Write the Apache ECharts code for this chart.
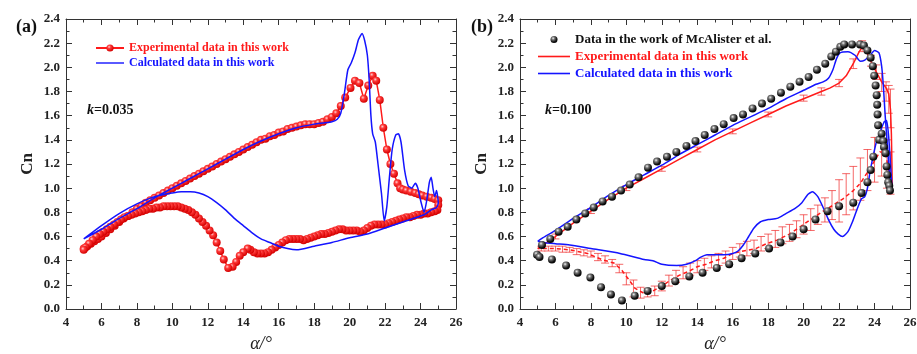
<!DOCTYPE html>
<html>
<head>
<meta charset="utf-8">
<script src="https://cdn.jsdelivr.net/npm/echarts@6/dist/echarts.min.js"></script>
<style>html,body{margin:0;padding:0;background:#fff}#c{width:917px;height:354px}</style>
</head>
<body>
<div id="c"></div>
<script>
// ---------- DATA ----------
const xTicks = [4, 26, 2];      // min, max, step (alpha, deg)
const yTicks = [0, 2.4, 0.2];   // min, max, step (Cn)

// Panel (a): k = 0.035
const aExpUp = [[5.0,0.50],[5.2,0.52],[5.4,0.54],[5.6,0.56],[5.8,0.58],[6.0,0.60],[6.25,0.63],[6.5,0.66],[6.75,0.69],[7.0,0.72],[7.25,0.75],[7.5,0.77],[7.75,0.80],[8.0,0.83],[8.25,0.85],[8.5,0.88],[8.75,0.90],[9.0,0.92],[9.25,0.94],[9.5,0.96],[9.75,0.98],[10.0,1.00],[10.25,1.02],[10.5,1.04],[10.75,1.06],[11.0,1.08],[11.25,1.10],[11.5,1.12],[11.75,1.14],[12.0,1.16],[12.25,1.18],[12.5,1.20],[12.75,1.22],[13.0,1.24],[13.25,1.26],[13.5,1.28],[13.75,1.30],[14.0,1.32],[14.25,1.34],[14.5,1.36],[14.75,1.38],[15.0,1.40],[15.25,1.41],[15.5,1.43],[15.75,1.44],[16.0,1.46],[16.25,1.47],[16.5,1.49],[16.75,1.50],[17.0,1.51],[17.25,1.52],[17.5,1.53],[17.75,1.53],[18.0,1.53],[18.25,1.54],[18.5,1.55],[18.75,1.57],[19.0,1.59],[19.25,1.62],[19.5,1.68],[19.75,1.75],[20.05,1.83],[20.3,1.89],[20.55,1.87],[20.8,1.74],[21.05,1.85],[21.3,1.93],[21.5,1.89],[21.7,1.73],[21.9,1.50],[22.1,1.32],[22.3,1.20],[22.5,1.12],[22.7,1.04],[22.85,1.00],[23.0,0.99],[23.2,0.98],[23.45,0.97],[23.7,0.96],[23.9,0.95],[24.1,0.94],[24.35,0.93],[24.6,0.92],[24.8,0.91],[25.0,0.90]];
const aExpDown = [[25.0,0.86],[24.95,0.82],[24.8,0.81],[24.6,0.80],[24.4,0.79],[24.2,0.79],[24.0,0.78],[23.8,0.78],[23.6,0.77],[23.4,0.76],[23.2,0.76],[23.0,0.75],[22.8,0.74],[22.6,0.73],[22.4,0.72],[22.2,0.71],[22.0,0.70],[21.8,0.70],[21.6,0.70],[21.4,0.70],[21.2,0.69],[21.0,0.67],[20.8,0.65],[20.6,0.64],[20.4,0.65],[20.2,0.65],[20.0,0.65],[19.8,0.65],[19.6,0.66],[19.4,0.66],[19.2,0.65],[19.0,0.64],[18.8,0.63],[18.6,0.62],[18.4,0.62],[18.2,0.61],[18.0,0.60],[17.8,0.59],[17.6,0.58],[17.4,0.57],[17.2,0.58],[17.0,0.58],[16.8,0.58],[16.6,0.58],[16.4,0.57],[16.2,0.55],[16.0,0.53],[15.8,0.51],[15.6,0.49],[15.4,0.47],[15.2,0.46],[15.0,0.46],[14.8,0.46],[14.6,0.47],[14.4,0.49],[14.25,0.50],[14.0,0.47],[13.8,0.44],[13.6,0.39],[13.4,0.35],[13.15,0.34],[12.9,0.41],[12.7,0.48],[12.5,0.55],[12.3,0.61],[12.1,0.65],[11.9,0.69],[11.7,0.72],[11.5,0.75],[11.3,0.78],[11.1,0.80],[10.9,0.82],[10.7,0.83],[10.5,0.84],[10.3,0.85],[10.1,0.85],[9.9,0.85],[9.7,0.85],[9.5,0.85],[9.3,0.84],[9.1,0.84],[8.9,0.83],[8.7,0.83],[8.5,0.82],[8.3,0.81],[8.1,0.80],[7.9,0.79],[7.7,0.78],[7.5,0.77],[7.3,0.76],[7.1,0.74],[6.9,0.72],[6.7,0.70],[6.5,0.68],[6.3,0.66],[6.1,0.64],[5.9,0.62],[5.7,0.60],[5.5,0.57],[5.3,0.54],[5.1,0.51],[5.0,0.49]];
const aCalc = [[5.0,0.58],[6.0,0.66],[7.0,0.75],[8.0,0.83],[9.0,0.92],[10.0,1.00],[11.0,1.08],[12.0,1.16],[13.0,1.24],[14.0,1.32],[15.0,1.39],[16.0,1.45],[17.0,1.50],[18.0,1.53],[18.5,1.54],[19.0,1.55],[19.3,1.57],[19.5,1.62],[19.7,1.78],[19.9,1.98],[20.1,2.04],[20.3,2.12],[20.5,2.23],[20.7,2.28],[20.85,2.22],[21.0,2.10],[21.1,1.90],[21.2,1.60],[21.3,1.45],[21.45,1.38],[21.6,1.20],[21.8,0.95],[21.95,0.73],[22.1,0.85],[22.25,1.10],[22.4,1.32],[22.6,1.44],[22.75,1.45],[22.9,1.38],[23.1,1.15],[23.3,1.02],[23.5,1.00],[23.7,1.04],[23.85,1.00],[24.0,0.90],[24.2,0.80],[24.35,0.90],[24.5,1.05],[24.6,1.09],[24.7,1.00],[24.8,0.93],[24.9,0.98],[25.0,0.88],[24.9,0.84],[24.6,0.82],[24.2,0.78],[23.0,0.72],[22.0,0.67],[21.0,0.62],[20.0,0.59],[19.0,0.55],[18.0,0.52],[17.0,0.49],[16.5,0.50],[16.0,0.52],[15.5,0.55],[15.0,0.58],[14.5,0.63],[14.0,0.69],[13.5,0.75],[13.0,0.82],[12.5,0.88],[12.0,0.93],[11.5,0.96],[11.0,0.97],[10.5,0.97],[10.0,0.96],[9.0,0.93],[8.0,0.87],[7.0,0.79],[6.0,0.69],[5.0,0.58]];

// Panel (b): k = 0.100
const bRef = [[4.96,0.45],[5.10,0.43],[5.24,0.53],[5.71,0.58],[5.80,0.41],[6.18,0.64],[6.60,0.36],[6.69,0.68],[7.18,0.74],[7.25,0.30],[7.68,0.79],[7.97,0.26],[8.16,0.84],[8.57,0.18],[8.66,0.89],[9.13,0.12],[9.19,0.93],[9.70,0.98],[9.75,0.07],[10.19,1.03],[10.47,0.11],[10.69,1.09],[11.20,0.15],[11.22,1.17],[11.73,1.22],[12.00,0.19],[12.29,1.26],[12.76,0.23],[12.82,1.30],[13.39,1.35],[13.55,0.27],[13.90,1.39],[14.30,0.30],[14.42,1.44],[14.97,1.49],[15.10,0.34],[15.49,1.53],[15.80,0.37],[16.05,1.58],[16.50,0.42],[16.58,1.61],[17.12,1.66],[17.27,0.46],[17.65,1.70],[18.05,0.50],[18.17,1.74],[18.70,0.55],[18.72,1.79],[19.25,1.84],[19.38,0.60],[19.77,1.88],[20.00,0.66],[20.28,1.92],[20.67,0.74],[20.75,1.98],[21.22,2.03],[21.35,0.81],[21.56,2.09],[21.82,2.13],[22.00,0.85],[22.07,2.17],[22.29,2.19],[22.73,2.19],[22.80,0.88],[23.18,2.19],[23.27,0.96],[23.40,2.18],[23.60,2.14],[23.60,1.05],[23.78,2.08],[23.78,1.15],[23.90,2.01],[23.93,1.26],[23.98,1.93],[24.06,1.85],[24.12,1.77],[24.15,1.69],[24.17,1.61],[24.20,1.52],[24.26,1.40],[24.40,1.45],[24.49,1.39],[24.53,1.34],[24.62,1.29],[24.68,1.18],[24.72,1.11],[24.77,1.05],[24.83,1.02],[24.87,0.98]];
const bExpUp = [[5.0,0.50],[5.5,0.55],[6.0,0.60],[7.0,0.71],[8.0,0.81],[9.0,0.91],[10.0,1.00],[11.0,1.08],[12.0,1.16],[13.0,1.24],[14.0,1.32],[15.0,1.40],[16.0,1.47],[17.0,1.54],[18.0,1.61],[19.0,1.68],[20.0,1.74],[21.0,1.80],[21.5,1.83],[22.0,1.87],[22.4,1.93],[22.8,2.03],[23.1,2.12],[23.3,2.17],[23.55,2.13],[23.8,2.05],[24.1,1.96],[24.4,1.88],[24.65,1.83],[24.8,1.78],[24.9,1.65],[24.95,1.45],[24.98,1.20],[25.0,0.97]];
const bExpDown = [[25.0,0.97],[24.85,1.12],[24.6,1.30],[24.3,1.30],[23.93,1.21],[23.55,1.12],[23.2,1.04],[22.8,0.98],[22.2,0.91],[21.67,0.86],[21.0,0.80],[20.4,0.74],[19.8,0.68],[19.2,0.62],[18.5,0.57],[17.9,0.54],[17.3,0.50],[16.6,0.48],[16.0,0.46],[15.5,0.42],[15.0,0.40],[14.5,0.37],[14.0,0.35],[13.5,0.31],[13.0,0.28],[12.5,0.24],[12.0,0.19],[11.5,0.15],[11.0,0.13],[10.5,0.17],[10.1,0.25],[9.75,0.32],[9.3,0.38],[8.6,0.41],[7.8,0.46],[6.8,0.49],[5.9,0.50],[5.0,0.50]];
const bExpErr = [[6.0,0.58,0.62],[8.0,0.79,0.83],[10.0,0.98,1.02],[12.0,1.14,1.18],[14.0,1.30,1.34],[16.0,1.45,1.49],[18.0,1.59,1.63],[20.0,1.72,1.77],[21.0,1.77,1.83],[22.0,1.84,1.90],[22.8,1.99,2.07],[23.3,2.13,2.22],[23.8,2.01,2.10],[24.1,1.90,2.02],[24.4,1.80,1.95],[24.65,1.72,1.88],[24.8,1.62,1.85],[24.9,1.50,1.82],
  [5.2,0.48,0.52],[5.6,0.48,0.52],[6.0,0.48,0.52],[6.4,0.47,0.52],[6.8,0.47,0.51],[7.2,0.45,0.50],[7.6,0.44,0.49],[8.0,0.43,0.48],[8.4,0.40,0.46],[8.8,0.38,0.44],[9.2,0.35,0.41],[9.6,0.30,0.37],[10.0,0.20,0.30],[10.4,0.10,0.24],[10.8,0.09,0.18],[11.2,0.10,0.17],[11.6,0.11,0.19],[12.0,0.15,0.23],[12.4,0.19,0.28],[12.8,0.22,0.32],[13.2,0.25,0.35],[13.6,0.28,0.38],[14.0,0.30,0.40],[14.4,0.32,0.42],[14.8,0.34,0.44],[15.2,0.36,0.46],[15.6,0.38,0.48],[16.0,0.41,0.51],[16.4,0.43,0.54],[16.8,0.44,0.56],[17.2,0.46,0.57],[17.6,0.48,0.60],[18.0,0.50,0.62],[18.4,0.51,0.65],[18.8,0.54,0.68],[19.2,0.56,0.70],[19.6,0.59,0.73],[20.0,0.62,0.78],[20.4,0.65,0.83],[20.8,0.70,0.86],[21.2,0.72,0.92],[21.6,0.74,0.98],[22.0,0.72,1.07],[22.4,0.78,1.12],[22.8,0.82,1.18],[23.2,0.90,1.25],[23.6,0.98,1.32],[24.0,1.05,1.42],[24.4,1.10,1.50],[24.7,1.00,1.40],[24.9,0.95,1.30]];
const bCalc = [[5.0,0.56],[5.3,0.59],[6.0,0.65],[7.0,0.75],[8.0,0.84],[9.0,0.94],[10.0,1.03],[11.0,1.11],[12.0,1.19],[13.0,1.28],[14.0,1.36],[15.0,1.44],[16.0,1.52],[17.0,1.59],[18.0,1.66],[19.0,1.74],[20.0,1.81],[20.7,1.86],[21.1,1.88],[21.4,1.91],[21.65,1.98],[21.85,2.07],[22.05,2.12],[22.5,2.13],[22.9,2.10],[23.2,2.05],[23.45,2.06],[23.75,2.10],[24.0,2.14],[24.25,2.12],[24.4,2.01],[24.5,1.84],[24.6,1.60],[24.75,1.30],[24.85,1.10],[24.95,0.98],[25.0,0.97],[24.9,1.20],[24.8,1.42],[24.68,1.56],[24.55,1.55],[24.35,1.48],[24.1,1.38],[23.9,1.25],[23.74,1.13],[23.6,1.00],[23.45,0.93],[23.25,0.91],[23.0,0.82],[22.75,0.72],[22.5,0.64],[22.2,0.60],[21.95,0.62],[21.7,0.66],[21.4,0.74],[21.1,0.84],[20.8,0.93],[20.5,0.97],[20.25,0.95],[19.9,0.88],[19.5,0.83],[19.0,0.79],[18.5,0.75],[18.0,0.74],[17.55,0.72],[17.2,0.67],[16.9,0.60],[16.6,0.53],[16.3,0.48],[16.0,0.46],[15.5,0.45],[15.0,0.45],[14.55,0.45],[14.2,0.43],[13.9,0.40],[13.4,0.37],[12.84,0.36],[12.0,0.37],[11.5,0.40],[11.0,0.41],[9.64,0.46],[8.0,0.50],[6.8,0.53],[6.0,0.54],[5.3,0.55],[5.0,0.56]];

const legendA = ['Experimental data in this work', 'Calculated data in this work'];
const legendB = ['Data in the work of McAlister et al.', 'Experimental data in this work', 'Calculated data in this work'];
const panelLabels = ['(a)', '(b)'];
const kValues = ['0.035', '0.100'];

// ---------- STYLE ----------
const SERIF = '"Liberation Serif","Times New Roman",serif';
const RED = '#ff1a1a', BLUE = '#1414ff';
const LINE_ICON = 'path://M0,0H40V2H0Z';
const redBall = {type:'radial', x:0.38, y:0.35, r:0.65, colorStops:[{offset:0,color:'#ffd0d0'},{offset:0.35,color:'#ff3a3a'},{offset:1,color:'#d40000'}]};
const blackBall = {type:'radial', x:0.38, y:0.33, r:0.7, colorStops:[{offset:0,color:'#f4f4f4'},{offset:0.3,color:'#777'},{offset:0.75,color:'#111'},{offset:1,color:'#000'}]};

const grids = [{left:66, top:19, width:390, height:290, outerBoundsMode:'none', containLabel:false},
               {left:520, top:19, width:390, height:290, outerBoundsMode:'none', containLabel:false}];

function xAx(g, pos) {
  const bottom = pos === 'bottom';
  return {type:'value', gridIndex:g, position:pos, min:xTicks[0], max:xTicks[1], interval:xTicks[2],
    axisLine:{show:true, onZero:false, lineStyle:{color:'#333', width:1}},
    axisTick:{show:true, inside:true, length:6, lineStyle:{color:'#333'}},
    minorTick:{show:true, splitNumber:2, length:3.5, lineStyle:{color:'#333'}},
    splitLine:{show:false},
    axisLabel:{show:bottom, margin:7, color:'#222', fontFamily:SERIF, fontWeight:'bold', fontSize:13},
    name: bottom ? 'α/°' : '', nameLocation:'middle', nameGap:26,
    nameTextStyle:{fontFamily:SERIF, fontStyle:'italic', fontSize:18, color:'#222'}};
}
function yAx(g, pos) {
  const left = pos === 'left';
  return {type:'value', gridIndex:g, position:pos, min:yTicks[0], max:yTicks[1], interval:yTicks[2],
    axisLine:{show:true, onZero:false, lineStyle:{color:'#333', width:1}},
    axisTick:{show:true, inside:true, length:6, lineStyle:{color:'#333'}},
    minorTick:{show:true, splitNumber:2, length:3.5, lineStyle:{color:'#333'}},
    splitLine:{show:false},
    axisLabel:{show:left, margin:6, color:'#222', fontFamily:SERIF, fontWeight:'bold', fontSize:13, formatter:v => v.toFixed(1)},
    name: left ? 'Cn' : '', nameLocation:'middle', nameGap:30, nameRotate:90,
    nameTextStyle:{fontFamily:SERIF, fontWeight:'bold', fontSize:17, color:'#222'}};
}

function errItem(params, api) {
  const x = api.value(0), lo = api.value(1), hi = api.value(2);
  const p1 = api.coord([x, lo]), p2 = api.coord([x, hi]);
  const hw = 4;
  const st = {stroke:'rgba(240,40,40,0.7)', lineWidth:1};
  return {type:'group', children:[
    {type:'line', shape:{x1:p1[0], y1:p1[1], x2:p2[0], y2:p2[1]}, style:st},
    {type:'line', shape:{x1:p1[0]-hw, y1:p1[1], x2:p1[0]+hw, y2:p1[1]}, style:st},
    {type:'line', shape:{x1:p2[0]-hw, y1:p2[1], x2:p2[0]+hw, y2:p2[1]}, style:st}
  ]};
}

const nm = {aExp:'aExp', aCalc:'aCalc', bRef:'bRef', bExp:'bExp', bCalc:'bCalc'};
const labelOf = {aExp:legendA[0], aCalc:legendA[1], bRef:legendB[0], bExp:legendB[1], bCalc:legendB[2]};

const option = {
  backgroundColor:'#fff',
  animation:false,
  grid: grids,
  xAxis:[xAx(0,'bottom'), xAx(0,'top'), xAx(1,'bottom'), xAx(1,'top')],
  yAxis:[yAx(0,'left'), yAx(0,'right'), yAx(1,'left'), yAx(1,'right')],
  title:[
    {text:panelLabels[0], left:11, top:13, textStyle:{fontFamily:SERIF, fontWeight:'bold', fontSize:18, color:'#111'}},
    {text:panelLabels[1], left:466, top:13, textStyle:{fontFamily:SERIF, fontWeight:'bold', fontSize:18, color:'#111'}},
    {text:'{i|k}{n|=' + kValues[0] + '}', left:82, top:98, textStyle:{rich:{
      i:{fontFamily:SERIF, fontWeight:'bold', fontStyle:'italic', fontSize:14, color:'#111'},
      n:{fontFamily:SERIF, fontWeight:'bold', fontSize:14, color:'#111'}}}},
    {text:'{i|k}{n|=' + kValues[1] + '}', left:540, top:98, textStyle:{rich:{
      i:{fontFamily:SERIF, fontWeight:'bold', fontStyle:'italic', fontSize:14, color:'#111'},
      n:{fontFamily:SERIF, fontWeight:'bold', fontSize:14, color:'#111'}}}}
  ],
  legend:[
    {orient:'vertical', left:90, top:37, itemWidth:28, itemHeight:9, itemGap:3,
     formatter:n => labelOf[n],
     textStyle:{fontFamily:SERIF, fontWeight:'bold', fontSize:12},
     data:[{name:nm.aExp, textStyle:{color:RED}},
           {name:nm.aCalc, icon:LINE_ICON, itemStyle:{color:BLUE}, textStyle:{color:BLUE}}]},
    {orient:'vertical', left:533, top:28, itemWidth:32, itemHeight:7, itemGap:4,
     formatter:n => labelOf[n],
     textStyle:{fontFamily:SERIF, fontWeight:'bold', fontSize:13},
     data:[{name:nm.bRef, textStyle:{color:'#111'}},
           {name:nm.bExp, icon:LINE_ICON, itemStyle:{color:RED}, textStyle:{color:RED}},
           {name:nm.bCalc, icon:LINE_ICON, itemStyle:{color:BLUE}, textStyle:{color:BLUE}}]}
  ],
  series:[
    {name:nm.aExp, type:'line', xAxisIndex:0, yAxisIndex:0, data:aExpUp.concat(aExpDown),
     showSymbol:true, symbol:'circle', symbolSize:8, lineStyle:{color:RED, width:1.5},
     itemStyle:{color:redBall, borderWidth:0}, z:2},
    {name:nm.aCalc, type:'line', xAxisIndex:0, yAxisIndex:0, data:aCalc, smooth:0.2,
     showSymbol:false, symbol:'none', lineStyle:{color:BLUE, width:1.5}, itemStyle:{color:BLUE}, z:3},
    {name:'bErr', type:'custom', xAxisIndex:2, yAxisIndex:2, data:bExpErr, renderItem:errItem,
     encode:{x:0, y:[1,2]}, z:1},
    {name:nm.bExp, type:'line', xAxisIndex:2, yAxisIndex:2, data:bExpUp,
     showSymbol:false, symbol:'none', lineStyle:{color:RED, width:1.5}, itemStyle:{color:RED}, z:2},
    {name:'bExpDown', type:'line', xAxisIndex:2, yAxisIndex:2, data:bExpDown,
     showSymbol:false, symbol:'none', lineStyle:{color:RED, width:1.5, type:[4,3]}, itemStyle:{color:RED}, z:2},
    {name:nm.bCalc, type:'line', xAxisIndex:2, yAxisIndex:2, data:bCalc, smooth:0.2,
     showSymbol:false, symbol:'none', lineStyle:{color:BLUE, width:1.5}, itemStyle:{color:BLUE}, z:3},
    {name:nm.bRef, type:'scatter', xAxisIndex:2, yAxisIndex:2, data:bRef,
     symbol:'circle', symbolSize:8, itemStyle:{color:blackBall, opacity:1}, z:4}
  ]
};
const chart = echarts.init(document.getElementById('c'), null, {renderer:'canvas'});
chart.setOption(option);
</script>
</body>
</html>
